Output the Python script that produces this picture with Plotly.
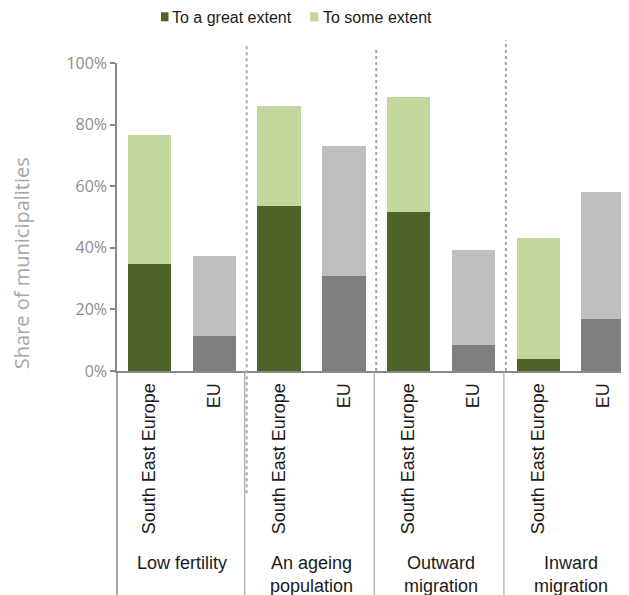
import plotly.graph_objects as go

# ---- data ----
categories = ["Low fertility", "An ageing<br>population", "Outward<br>migration", "Inward<br>migration"]
regions = ["South East Europe", "EU"]
series_names = ["To a great extent", "To some extent"]
see_great = [34.9, 53.7, 51.5, 3.9]
see_some = [41.6, 32.2, 37.5, 39.3]
eu_great = [11.4, 30.7, 8.3, 16.9]
eu_some = [25.8, 42.3, 30.9, 41.1]
y_ticks = [0, 20, 40, 60, 80, 100]
y_tick_labels = ["0%", "20%", "40%", "60%", "80%", "100%"]

n = len(categories)
x_see = [2 * i for i in range(n)]
x_eu = [2 * i + 1 for i in range(n)]
tickvals = sorted(x_see + x_eu)
ticktext = [regions[v % 2] for v in tickvals]

DARK_GREEN = "#4F6228"
LIGHT_GREEN = "#C3D69B"
DARK_GREY = "#7F7F7F"
LIGHT_GREY = "#BFBFBF"
AXIS_GREY = "#898989"
W = 0.67

fig = go.Figure()
fig.add_trace(go.Bar(x=x_see, y=see_great, name=series_names[0], marker_color=DARK_GREEN,
                     width=W, marker_line_width=0))
fig.add_trace(go.Bar(x=x_see, y=see_some, name=series_names[1], marker_color=LIGHT_GREEN,
                     width=W, marker_line_width=0))
fig.add_trace(go.Bar(x=x_eu, y=eu_great, name="EU " + series_names[0], marker_color=DARK_GREY,
                     width=W, marker_line_width=0))
fig.add_trace(go.Bar(x=x_eu, y=eu_some, name="EU " + series_names[1], marker_color=LIGHT_GREY,
                     width=W, marker_line_width=0))

XMIN, XMAX = -0.5, 7.40
span = XMAX - XMIN


def px_x(v):
    return (v - XMIN) / span


shapes = []
# left axis extension through label area
shapes.append(dict(type="line", xref="paper", yref="paper", x0=0, x1=0, y0=-0.75, y1=0,
                   line=dict(color=AXIS_GREY, width=1.5)))
for i in range(n - 1):
    mid = 2 * i + 1.5
    top = [1.064, 1.051, 1.074][i]
    bottom = -0.397 if i == 0 else 0
    shapes.append(dict(type="line", xref="paper", yref="paper", x0=px_x(mid), x1=px_x(mid),
                       y0=bottom, y1=top, line=dict(color="#A6A6A6", width=2, dash="dot")))
    shapes.append(dict(type="line", xref="paper", yref="paper", x0=px_x(mid - 0.03), x1=px_x(mid - 0.03),
                       y0=-0.75, y1=0, line=dict(color="#A6A6A6", width=1.2)))

annotations = []
for i, c in enumerate(categories):
    annotations.append(dict(x=px_x(2 * i + 0.5), y=-0.585, xref="paper", yref="paper",
                            text=c, showarrow=False, xanchor="center", yanchor="top",
                            font=dict(family="Liberation Sans, Arial", size=18, color="#1a1a1a")))
annotations.append(dict(x=-0.1875, y=0.35, xref="paper", yref="paper", text="Share of municipalities",
                        textangle=-90, showarrow=False, xanchor="center", yanchor="middle",
                        font=dict(family="Open Sans", size=20, color="#A6A6A6")))

# hand-drawn legend (compact symbol/text spacing as in the reference)
legend_items = [(series_names[0], DARK_GREEN, 0.0859, 0.1006, 0.1055),
                (series_names[1], LIGHT_GREEN, 0.3770, 0.3932, 0.4004)]
for name, col, sx0, sx1, tx in legend_items:
    shapes.append(dict(type="rect", xref="paper", yref="paper", x0=sx0, x1=sx1, y0=1.1354, y1=1.1646,
                       fillcolor=col, line=dict(width=0)))
    annotations.append(dict(x=tx, y=1.1776, xref="paper", yref="paper", text=name, showarrow=False,
                            xanchor="left", yanchor="top", borderpad=0,
                            font=dict(family="Liberation Sans, Arial", size=16, color="#1a1a1a")))

# page body has an 8px default margin, so the figure is sized/offset to compensate
fig.update_layout(
    width=621, height=587,
    margin=dict(l=109, r=0, t=54.7, b=224.3),
    barmode="stack",
    plot_bgcolor="white", paper_bgcolor="white",
    shapes=shapes, annotations=annotations,
    showlegend=False,
    xaxis=dict(range=[XMIN, XMAX], tickvals=tickvals, ticktext=ticktext, tickangle=-90,
               showline=True, linecolor=AXIS_GREY, linewidth=2, ticks="", showgrid=False,
               zeroline=False, ticklabelstandoff=3,
               tickfont=dict(family="Liberation Sans, Arial", size=18, color="#1a1a1a")),
    yaxis=dict(range=[0, 100], tickvals=y_ticks, ticktext=y_tick_labels, showline=True,
               linecolor=AXIS_GREY, linewidth=1.5, ticks="outside", ticklen=5, tickcolor=AXIS_GREY,
               tickwidth=1.5, showgrid=False, zeroline=False,
               tickfont=dict(family="Open Sans", size=16, color="#8C8C8C")),
)

fig.write_html("out.html")
